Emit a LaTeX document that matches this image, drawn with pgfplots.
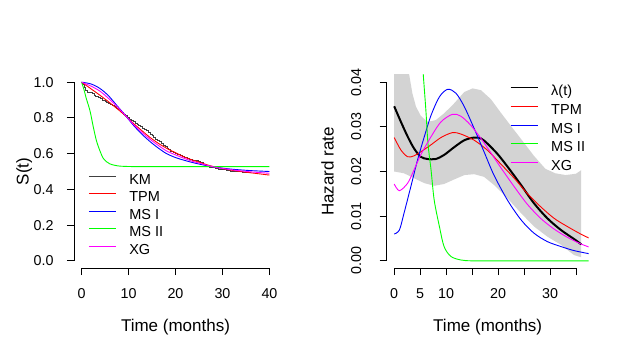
\documentclass[border=0pt]{standalone}
\usepackage{fontspec}
\setmainfont{Liberation Sans}
\usepackage{pgfplots}
\pgfplotsset{compat=1.18}
\definecolor{rred}{RGB}{255,0,0}
\definecolor{rblue}{RGB}{0,0,255}
\definecolor{rgreen}{RGB}{0,255,0}
\definecolor{rmag}{RGB}{255,0,255}
\definecolor{rgray}{RGB}{211,211,211}
\begin{document}
\begin{tikzpicture}
\useasboundingbox (0,0) rectangle (628pt,361pt);
\pgfplotsset{
 rstyle/.style={
  scale only axis, clip mode=individual,
  axis x line*=bottom, axis y line*=left,
  axis line style={draw=none,-},
  tick align=outside, major tick length=7pt,
  tick style={black, line width=0.8pt},
  ticklabel style={font=\fontsize{14.3}{16}\selectfont},
  xticklabel shift=10pt,
  label style={font=\fontsize{17}{19}\selectfont},
  xlabel style={at={(axis description cs:0.5,-0.306)}, anchor=center},
  legend cell align=left,
  legend image code/.code={\draw[##1, line width=1.1pt] (0pt,4.5pt) -- (27pt,4.5pt);},
 }
}
% ---------------- left panel ----------------
\begin{axis}[rstyle, at={(74pt,93pt)}, anchor=south west, width=203pt, height=193pt,
 xmin=-1.6, xmax=41.6, ymin=-0.04, ymax=1.04,
 xtick={0,10,20,30,40}, xticklabels={0,10,20,30,40},
 ytick={0,0.2,0.4,0.6,0.8,1}, yticklabels={0.0,0.2,0.4,0.6,0.8,1.0},
 yticklabel shift=10pt,
 xlabel={Time (months)}, ylabel={S(t)},
 ylabel style={at={(axis description cs:-0.245,0.5)}, anchor=center},
 legend style={draw=none, fill=none, at={(axis description cs:0.069,0.497)}, anchor=north west,
   inner sep=0pt, column sep=13pt, font=\fontsize{14.5}{17}\selectfont,
   nodes={inner xsep=0pt, inner ysep=2.2pt, text height=10pt, text depth=3pt}},
]
\addplot[const plot, black!75, line width=0.9pt] coordinates {
(0,1.0)(0.3,0.985)(0.6,0.97)(0.9,0.955)(1.2,0.945)(1.8,0.94)(2.3,0.934)(2.7,0.926)(3.0,0.918)(3.6,0.912)(4.0,0.906)(4.5,0.90)(5.0,0.894)(5.4,0.888)(5.8,0.882)(6.2,0.875)(6.6,0.868)(7.0,0.862)(7.4,0.855)(7.8,0.848)(8.2,0.842)(8.6,0.832)(9.0,0.822)(9.4,0.812)(9.8,0.802)(10.2,0.794)(10.6,0.785)(11.0,0.778)(11.4,0.771)(11.8,0.765)(12.2,0.758)(12.6,0.75)(13.0,0.742)(13.4,0.735)(13.8,0.727)(14.2,0.718)(14.6,0.709)(15.0,0.70)(15.4,0.69)(15.8,0.682)(16.2,0.675)(16.6,0.667)(17.0,0.657)(17.4,0.647)(17.8,0.638)(18.2,0.63)(18.6,0.622)(19.0,0.614)(19.5,0.607)(20.0,0.60)(20.5,0.594)(21.0,0.589)(21.5,0.583)(22.0,0.578)(22.5,0.573)(23.0,0.569)(23.6,0.564)(24.2,0.56)(24.8,0.555)(25.4,0.548)(26.0,0.54)(26.6,0.532)(27.2,0.525)(27.8,0.521)(28.5,0.517)(29.2,0.513)(30.0,0.509)(30.8,0.506)(31.6,0.503)(32.4,0.501)(33.3,0.499)(34.2,0.497)(35.2,0.495)(36,0.494)};
\addlegendentry{KM}
\addplot[color=rred, line width=0.9pt, smooth] coordinates {
(0,1.0)(2,0.963)(3.9,0.927)(6,0.885)(7.5,0.853)(9,0.82)(11,0.77)(13,0.725)(14.6,0.69)(16.5,0.655)(18.1,0.63)(20,0.605)(21.7,0.583)(23.5,0.565)(25.3,0.55)(27,0.535)(28.8,0.523)(30.5,0.514)(32.4,0.505)(35,0.496)(37.5,0.488)(40,0.48)};
\addlegendentry{TPM}
\addplot[color=rblue, line width=0.9pt, smooth] coordinates {
(0,1.0)(2,0.99)(3.9,0.965)(5.7,0.925)(7.5,0.87)(9.3,0.815)(11,0.76)(12.8,0.71)(14.6,0.667)(16.4,0.63)(18.1,0.60)(20,0.578)(21.7,0.564)(23.5,0.551)(25.3,0.54)(27,0.531)(28.8,0.523)(30.6,0.517)(32.4,0.512)(36,0.505)(40,0.50)};
\addlegendentry{MS I}
\addplot[color=rgreen, line width=0.9pt, smooth] coordinates {
(0,1.0)(0.5,0.96)(1,0.91)(1.8,0.84)(2.5,0.75)(3.2,0.67)(4,0.61)(4.6,0.575)(5.3,0.555)(6,0.543)(7,0.535)(8.2,0.53)(10,0.528)(13,0.527)(20,0.527)(30,0.527)(40,0.527)};
\addlegendentry{MS II}
\addplot[color=rmag, line width=0.9pt, smooth] coordinates {
(0,1.0)(2,0.978)(3.9,0.95)(5.7,0.91)(7.5,0.865)(9.3,0.815)(11,0.765)(12.8,0.72)(14.6,0.68)(16.4,0.645)(18.1,0.615)(20,0.593)(21.7,0.575)(23.5,0.558)(25.3,0.545)(27,0.533)(28.8,0.522)(30.6,0.515)(32.4,0.508)(36,0.498)(40,0.49)};
\addlegendentry{XG}
\draw[black, line width=0.8pt] (axis cs:0,-0.04) -- (axis cs:40,-0.04);
\draw[black, line width=0.8pt] (axis cs:-1.6,0) -- (axis cs:-1.6,1);
\end{axis}
% ---------------- right panel ----------------
\begin{axis}[rstyle, at={(386.7pt,93pt)}, anchor=south west, width=202pt, height=193pt,
 xmin=-1.44, xmax=37.44, ymin=-0.0016, ymax=0.0416,
 xtick={0,5,10,15,20,25,30,35}, xticklabels={0,5,10,,20,,30,},
 ytick={0,0.01,0.02,0.03,0.04}, yticklabels={0.00,0.01,0.02,0.03,0.04},
 yticklabel style={rotate=90, anchor=south},
 yticklabel shift=15pt,
 scaled y ticks=false,
 xlabel={Time (months)}, ylabel={Hazard rate},
 ylabel style={at={(axis description cs:-0.293,0.5)}, anchor=center},
 legend style={draw=none, fill=none, at={(axis description cs:0.610,0.959)}, anchor=north west,
   inner sep=0pt, column sep=13pt, font=\fontsize{14.5}{17}\selectfont,
   nodes={inner xsep=0pt, inner ysep=2.8pt, text height=10pt, text depth=3pt}},
]
\addplot[fill=rgray, draw=none, forget plot] coordinates {
(0,0.056)(1,0.05)(1.9,0.0445)(2.9,0.0416)(3.5,0.0375)(4.2,0.0345)(5.1,0.0325)(6.4,0.0311)(8,0.0315)(9.6,0.033)(11.5,0.0352)(13.5,0.0378)(15.1,0.0386)(16.7,0.0382)(18.6,0.0362)(20.5,0.0332)(22.4,0.0303)(24.4,0.0273)(26.9,0.0235)(29.1,0.0206)(31,0.0196)(33,0.0192)(35,0.0195)(36,0.0203)
(36,0.0008)(34.6,0.0013)(32.1,0.0036)(29.5,0.0054)(26.9,0.0077)(24.4,0.0107)(21.8,0.0140)(19.2,0.0170)(17.3,0.0188)(15.4,0.0194)(13.5,0.0192)(11.5,0.0182)(9.6,0.0172)(7.7,0.0168)(5.8,0.0174)(3.8,0.0185)(1.9,0.0196)(0,0.0200)};
\addplot[color=black, line width=2pt, smooth] coordinates {
(0,0.0346)(1.3,0.0311)(2.6,0.0278)(3.8,0.0252)(5.1,0.0233)(6.4,0.0228)(8,0.0228)(9.6,0.0237)(11.5,0.0254)(13.5,0.0270)(15.4,0.0276)(16.7,0.0274)(17.9,0.0263)(19.9,0.0239)(21.8,0.0211)(24.4,0.0170)(26.9,0.0129)(29.5,0.0095)(32.1,0.0069)(34.6,0.0049)(36,0.0037)};
\addlegendentry{λ(t)}
\addplot[color=rred, line width=0.9pt, smooth] coordinates {
(0,0.0276)(1.3,0.0248)(2.6,0.0233)(3.8,0.0235)(5.1,0.0244)(7,0.0259)(9,0.0276)(11.2,0.0287)(12.8,0.0284)(15.4,0.0270)(17.9,0.0248)(20.5,0.0217)(23.1,0.0185)(25.6,0.0151)(28.2,0.0121)(30.8,0.0095)(33.3,0.0077)(35.9,0.0060)(37.5,0.0051)};
\addlegendentry{TPM}
\addplot[color=rblue, line width=0.9pt, smooth] coordinates {
(0,0.0060)(1,0.0069)(1.9,0.0107)(3.2,0.0166)(4.5,0.0226)(5.8,0.0278)(7.1,0.0326)(8.7,0.0367)(10.3,0.0384)(11.9,0.0375)(13.5,0.0345)(15.4,0.0296)(17.3,0.0244)(19.2,0.0192)(21.8,0.0136)(24.4,0.0092)(26.9,0.0062)(29.5,0.0043)(32.1,0.0032)(34.6,0.0023)(37.5,0.0016)};
\addlegendentry{MS I}
\addplot[color=rgreen, line width=0.9pt, smooth] coordinates {
(5.0,0.051)(5.6,0.0416)(6.1,0.0337)(6.5,0.0263)(7.1,0.0203)(7.7,0.0136)(8.7,0.0077)(9.6,0.0032)(10.9,0.0010)(12.8,0.0002)(15,0.0)(20,0.0)(30,0.0)(37.5,0.0)};
\addlegendentry{MS II}
\addplot[color=rmag, line width=0.9pt, smooth] coordinates {
(0,0.0172)(1,0.0157)(2.6,0.0174)(3.8,0.0203)(5.1,0.0237)(7.1,0.0278)(9,0.0311)(11.2,0.0328)(12.8,0.0324)(14.7,0.0304)(16.7,0.0274)(18.6,0.0242)(20.5,0.0209)(23.1,0.0166)(25.6,0.0127)(28.2,0.0095)(30.8,0.0071)(33.3,0.0053)(35.9,0.0038)(37.5,0.0031)};
\addlegendentry{XG}
\draw[black, line width=0.8pt] (axis cs:0,-0.0016) -- (axis cs:35,-0.0016);
\draw[black, line width=0.8pt] (axis cs:-1.44,0) -- (axis cs:-1.44,0.04);
\end{axis}
\end{tikzpicture}
\end{document}
